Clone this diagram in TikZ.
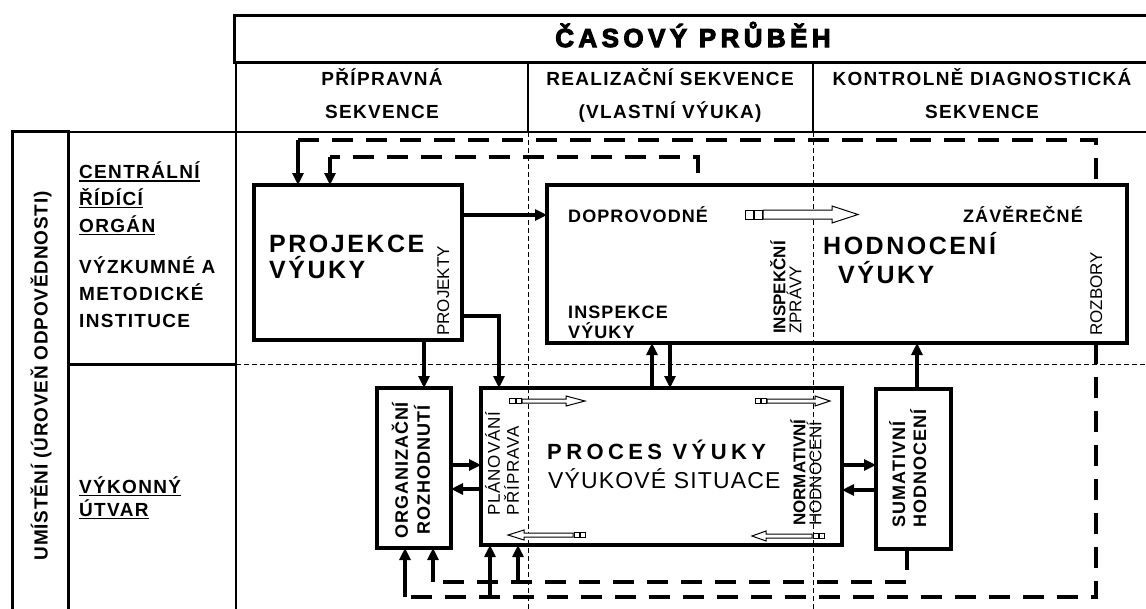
\documentclass[tikz,border=0pt]{standalone}
\usepackage{fontspec}
\setmainfont{Liberation Sans}
\newfontfamily\heavyfont{Liberation Sans}[BoldFeatures={FakeBold=4}]
\usetikzlibrary{arrows.meta,calc}
\newcommand\lsp[1]{\addfontfeature{LetterSpace=#1}}
\begin{document}
\begin{tikzpicture}[x=1pt,y=-1pt]
\tikzset{
 bx/.style={draw, line width=4pt, fill=white, inner sep=0pt, outer sep=0pt},
 arr/.style={line width=3.5pt, -{Triangle[length=12pt,width=11pt]}},
 fbloop/.style={line width=4pt, dash pattern=on 21pt off 13pt},
 thindash/.style={line width=1pt, dash pattern=on 5pt off 3pt},
 hdr/.style={font=\fontsize{19}{21}\selectfont\bfseries\lsp{7}, inner sep=0pt},
 lbl/.style={font=\fontsize{18}{20}\selectfont\bfseries\lsp{6}, inner sep=0pt},
 big/.style={font=\fontsize{25}{28}\selectfont\bfseries\lsp{10}, inner sep=0pt},
 rot/.style={rotate=90, inner sep=0pt},
 oarr/.style={line width=1pt, fill=white},
 uline/.style={line width=1.6pt},
}
\useasboundingbox (0,0) rectangle (1146,608);
% ---- grid
\node[bx, line width=3pt, minimum width=914pt, minimum height=47pt, anchor=north west] (title) at (234,15) {};
\draw[line width=1.5pt] (68,132) -- (1148,132);
\draw[line width=1.5pt] (236,62) -- (236,610);
\draw[line width=1.5pt] (528,62) -- (528,132);
\draw[line width=1.5pt] (813,62) -- (813,132);
\draw[line width=3pt] (68,364) -- (236,364);
\draw[line width=3pt] (12,612) -- (12,131) -- (68,131) -- (68,612);
% ---- coordinates of feedback loops
\coordinate (c1) at (298,140);
\coordinate (c2) at (1096,140);
\coordinate (c3) at (1096,597);
\coordinate (c4) at (405,597);
\coordinate (c5) at (490,597);
\coordinate (d0) at (698,173);
\coordinate (d1) at (698,157);
\coordinate (d2) at (330,157);
\coordinate (e1) at (907,582);
\coordinate (e2) at (433,582);
\coordinate (e3) at (518,582);
% ---- boxes
\node[bx, minimum width=208pt, minimum height=155pt] (proj) at (358,262.5) {};
\node[bx, minimum width=580pt, minimum height=158pt] (hod) at (837,264) {};
\node[bx, minimum width=74pt, minimum height=160pt] (org) at (414,468) {};
\node[bx, minimum width=361pt, minimum height=157pt] (proc) at (661.5,466.5) {};
\node[bx, minimum width=75pt, minimum height=160pt] (sum) at (913.5,469) {};
% ---- loops
\draw[fbloop] (c1) -- (c2) -- (c2 |- hod.north);
\draw[fbloop] (c2 |- hod.south) -- (c3) -- (c4);
\draw[arr] (c1) -- (c1 |- proj.north);
\draw[arr] (c4) -- (c4 |- org.south);
\draw[arr] (c5) -- (c5 |- proc.south);
\draw[fbloop] (d0) -- (d1) -- (d2);
\draw[arr] (d2) -- (d2 |- proj.north);
\draw[fbloop] (sum.south -| e1) -- (e1) -- (e2);
\draw[arr] (e2) -- (e2 |- org.south);
\draw[arr] (e3) -- (e3 |- proc.south);
% ---- connectors
\draw[arr] ($(proj.north east)+(0,30)$) -- ($(hod.north west)+(0,30)$);
\coordinate (p1) at ($(org.north)+(10,0)$);
\draw[arr] (proj.south -| p1) -- (p1);
\draw[arr] ($(proj.south east)+(0,-24)$) -| ($(proc.north west)+(18,0)$);
\coordinate (p2) at ($(proc.north west)+(171,0)$);
\draw[arr] (p2) -- (p2 |- hod.south);
\coordinate (p3) at ($(proc.north west)+(189,0)$);
\draw[arr] (p3 |- hod.south) -- (p3);
\coordinate (p4) at ($(sum.north)+(3.5,0)$);
\draw[arr] (p4) -- (p4 |- hod.south);
\coordinate (q1) at ($(org.north east)+(0,77)$);
\draw[arr] (q1) -- (q1 -| proc.west);
\coordinate (q2) at ($(org.north east)+(0,101)$);
\draw[arr] (q2 -| proc.west) -- (q2);
\coordinate (q3) at ($(proc.north east)+(0,77)$);
\draw[arr] (q3) -- (q3 -| sum.west);
\coordinate (q4) at ($(proc.north east)+(0,102)$);
\draw[arr] (q4 -| sum.west) -- (q4);
% ---- thin dashed separators
\draw[thindash] (236,364) -- (1148,364);
\draw[thindash] (528,132) -- (528,610);
\draw[thindash] (813,132) -- (813,610);
% ---- open arrows
\draw[oarr] (745,210) rectangle (753,219);
\draw[oarr] (754,210) rectangle (762,219);
\draw[oarr] (763,210) -- (832,210) -- (832,206) -- (858,214.5) -- (832,223) -- (832,219) -- (763,219) -- cycle;
\draw[oarr] (509,398.5) rectangle (515,403.5);
\draw[oarr] (516,398.5) rectangle (521,403.5);
\draw[oarr] (522,399) -- (566,399) -- (566,396) -- (585,401) -- (566,406) -- (566,403) -- (522,403) -- cycle;
\draw[oarr] (755,398.5) rectangle (760,403.5);
\draw[oarr] (761,398.5) rectangle (766,403.5);
\draw[oarr] (767,399) -- (815,399) -- (815,396) -- (830,401) -- (815,406) -- (815,403) -- (767,403) -- cycle;
\draw[oarr] (508,535) -- (524,530) -- (524,533) -- (573,533) -- (573,537) -- (524,537) -- (524,540) -- cycle;
\draw[oarr] (574,532.5) rectangle (579,537.5);
\draw[oarr] (580,532.5) rectangle (585,537.5);
\draw[oarr] (752,536) -- (766,531) -- (766,534) -- (812,534) -- (812,538) -- (766,538) -- (766,541) -- cycle;
\draw[oarr] (813,533.5) rectangle (818,538.5);
\draw[oarr] (819,533.5) rectangle (824,538.5);
% ---- texts
\node[font=\fontsize{26}{28}\selectfont\heavyfont\bfseries\lsp{17}, inner sep=0pt, anchor=base] (ttl) at (693,47) {ČASOVÝ PRŮBĚH};
\node[hdr, anchor=base] (h1a) at (382,85) {PŘÍPRAVNÁ};
\node[hdr, anchor=base] (h1b) at (382,118) {SEKVENCE};
\node[hdr, anchor=base] (h2a) at (670,85) {REALIZAČNÍ SEKVENCE};
\node[hdr, anchor=base] (h2b) at (670,118) {(VLASTNÍ VÝUKA)};
\node[hdr, anchor=base] (h3a) at (982,85) {KONTROLNĚ DIAGNOSTICKÁ};
\node[hdr, anchor=base] (h3b) at (982,118) {SEKVENCE};
\node[hdr, anchor=base west] (l1) at (79,178) {CENTRÁLNÍ};
\node[hdr, anchor=base west] (l2) at (79,205) {ŘÍDÍCÍ};
\node[hdr, anchor=base west] (l3) at (79,232) {ORGÁN};
\node[hdr, anchor=base west] (l4) at (79,273) {VÝZKUMNÉ A};
\node[hdr, anchor=base west] (l5) at (79,300) {METODICKÉ};
\node[hdr, anchor=base west] (l6) at (79,327) {INSTITUCE};
\node[hdr, anchor=base west] (l7) at (79,493) {VÝKONNÝ};
\node[hdr, anchor=base west] (l8) at (79,516) {ÚTVAR};
\draw[uline] ([yshift=-3pt]l1.base west) -- ([yshift=-3pt]l1.base east);
\draw[uline] ([yshift=-2.5pt]l2.base west) -- ([yshift=-2.5pt]l2.base east);
\draw[uline] ([yshift=-2.5pt]l3.base west) -- ([yshift=-2.5pt]l3.base east);
\draw[uline] ([yshift=-2.5pt]l7.base west) -- ([yshift=-2.5pt]l7.base east);
\draw[uline] ([yshift=-2.5pt]l8.base west) -- ([yshift=-2.5pt]l8.base east);
\node[rot, font=\fontsize{19}{21}\selectfont\bfseries\lsp{4}] (umis) at (41,376) {UMÍSTĚNÍ (ÚROVEŇ ODPOVĚDNOSTI)};
\node[big, anchor=base west] (pj1) at (269,252) {PROJEKCE};
\node[big, anchor=base west] (pj2) at (269,278) {VÝUKY};
\node[big, anchor=base west] (hd1) at (823,254) {HODNOCENÍ};
\node[big, anchor=base west] (hd2) at (838,283) {VÝUKY};
\node[font=\fontsize{22}{24}\selectfont\bfseries\lsp{20}, inner sep=0pt, anchor=base west] (pr1) at (547,459) {PROCES VÝUKY};
\node[font=\fontsize{23}{25}\selectfont\lsp{5}, inner sep=0pt, anchor=base west] (pr2) at (548,488) {VÝUKOVÉ SITUACE};
\node[lbl, anchor=base west] (dopr) at (568,222) {DOPROVODNÉ};
\node[lbl, anchor=base east] (zav) at (1083,222) {ZÁVĚREČNÉ};
\node[lbl, anchor=base west] (ins1) at (568,318) {INSPEKCE};
\node[lbl, anchor=base west] (ins2) at (568,338) {VÝUKY};
\node[rot, font=\fontsize{17}{18}\selectfont, anchor=north west] (pjk) at (437,336) {PROJEKTY};
\node[rot, font=\fontsize{17}{16}\selectfont, align=left, anchor=north west] (insz) at (770,334) {{\bfseries INSPEKČNÍ}\\ZPRÁVY};
\node[rot, font=\fontsize{17}{18}\selectfont, anchor=north west] (rozb) at (1090,336) {ROZBORY};
\node[rot, font=\fontsize{17}{19}\selectfont\lsp{5}, align=left, anchor=north west] (plan) at (485,516) {PLÁNOVÁNÍ\\PŘÍPRAVA};
\node[rot, font=\fontsize{17}{16}\selectfont, align=left, anchor=north west] (norm) at (790,526) {{\bfseries NORMATIVNÍ}\\HODNOCENÍ};
\node[rot, font=\fontsize{18}{21}\selectfont\bfseries\lsp{6}, align=left, anchor=north west] (sumt) at (889,528) {SUMATIVNÍ\\HODNOCENÍ};
\node[rot, font=\fontsize{18}{22}\selectfont\bfseries\lsp{5}, align=center] (orgt) at (411,470) {ORGANIZAČNÍ\\ROZHODNUTÍ};
\end{tikzpicture}
\end{document}
